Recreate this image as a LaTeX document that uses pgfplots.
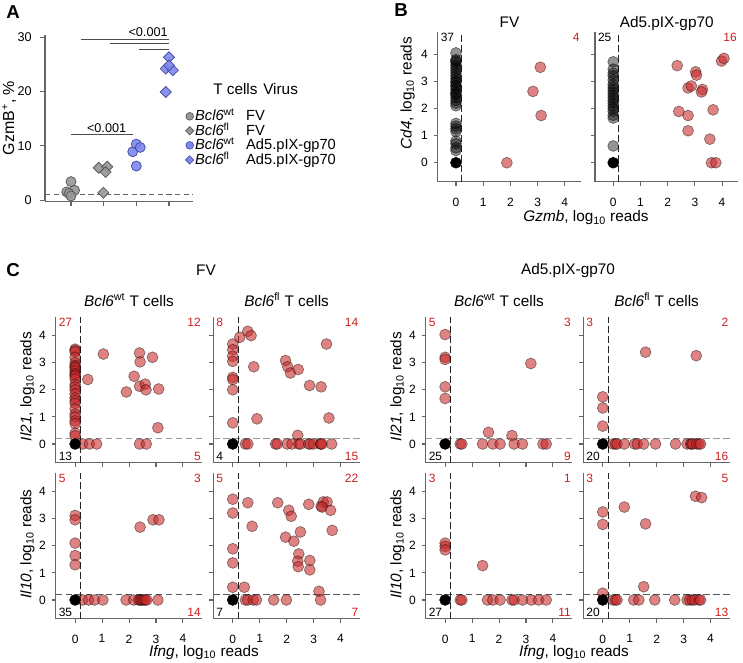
\documentclass[border=0pt]{standalone}
\usepackage{fontspec}
\setmainfont{Liberation Sans}
\usepackage{pgfplots}
\pgfplotsset{compat=1.18}
\definecolor{ptred}{RGB}{200,40,40}
\definecolor{numred}{RGB}{205,30,30}
\definecolor{agray}{RGB}{150,150,150}
\definecolor{agrayd}{RGB}{90,90,90}
\definecolor{ablue}{RGB}{125,135,235}
\definecolor{ablued}{RGB}{70,80,170}
\newcommand{\fs}[1]{\fontsize{#1}{#1}\selectfont}
\tikzset{cnr/.style={font=\fs{9}, inner sep=1pt},
  lab/.style={font=\fs{11.5}, inner sep=0pt}}
\pgfplotsset{
  base/.style={scale only axis, axis x line*=bottom, axis y line*=left,
    axis line style={-, black!60, line width=0.9pt},
    tick align=outside, major tick length=3pt,
    tick style={black!60, line width=0.8pt},
    ticklabel style={font=\fs{9}},
    /pgf/number format/assume math mode=true,
    xticklabel style={yshift=-5.5pt},
    yticklabel style={xshift=-1pt},
    clip=false},
  sc/.style={base, width=109.95pt, height=109.5pt, xmin=-0.72, xmax=4.72, ymin=-0.69, ymax=4.7,
    xtick={0,1,2,3,4}, ytick={0,1,2,3,4}},
  redpt/.style={only marks, mark=*, mark size=4.1pt, mark options={fill=ptred, fill opacity=0.58, draw=black, draw opacity=0.45, line width=0.5pt}},
  graypt/.style={only marks, mark=*, mark size=4.1pt, mark options={fill=black, fill opacity=0.42, draw=black, draw opacity=0.5, line width=0.5pt}},
  blkpt/.style={only marks, mark=*, mark size=4.1pt, mark options={fill=black, draw=black}},
  vdash/.style={black!85, line width=0.7pt, dash pattern=on 5pt off 2.5pt},
  hdash/.style={black!40, line width=0.9pt, dash pattern=on 5pt off 2.5pt},
  hdashd/.style={black!65, line width=0.8pt, dash pattern=on 5pt off 2.5pt},
}
\begin{document}
\begin{tikzpicture}
\useasboundingbox (0,0) rectangle (557.25pt,-497.25pt);
% ---------------- Panel labels and free text
\node[font=\fs{14}\bfseries] at (9.75pt,-9pt) {A};
\node[font=\fs{14}\bfseries] at (300.75pt,-7.5pt) {B};
\node[font=\fs{14}\bfseries] at (9.75pt,-202.5pt) {C};
\node[lab, rotate=90, font=\fs{12}] at (6.9pt,-88.5pt) {GzmB\textsuperscript{+}, \%};
\node[anchor=west, inner sep=0pt, font=\fs{11.5}] at (159.75pt,-66.75pt) {T cells};
\node[anchor=west, inner sep=0pt, font=\fs{11.5}] at (197.25pt,-66.75pt) {Virus};
\node[lab, anchor=base] at (439.5pt,-166.5pt) {\textit{Gzmb}, log\textsubscript{10} reads};
\node[lab, rotate=90] at (305.7pt,-70pt) {\textit{Cd4}, log\textsubscript{10} reads};
\node[lab] at (154.5pt,-202.5pt) {FV};
\node[lab] at (426pt,-203.25pt) {Ad5.pIX-gp70};
\node[lab, anchor=base] at (153pt,-492pt) {\textit{Ifng}, log\textsubscript{10} reads};
\node[lab, anchor=base] at (430.5pt,-492pt) {\textit{Ifng}, log\textsubscript{10} reads};
\node[lab, rotate=90] at (20.5pt,-290pt) {\textit{Il21}, log\textsubscript{10} reads};
\node[lab, rotate=90] at (298pt,-290pt) {\textit{Il21}, log\textsubscript{10} reads};
\node[lab, rotate=90] at (20.5pt,-408pt) {\textit{Il10}, log\textsubscript{10} reads};
\node[lab, rotate=90] at (298pt,-408pt) {\textit{Il10}, log\textsubscript{10} reads};

% ---------------- Panel A
\begin{axis}[base, at={(33.75pt,-26.25pt)}, anchor=north west, width=111pt, height=124.6pt,
  xmin=0.204, xmax=4.735, ymin=-0.2, ymax=30.4, xtick={1,2,3,4}, xticklabels={},
  ytick={0,10,20,30}, ticklabel style={font=\fs{9.5}}, yticklabel style={xshift=-1.5pt},
  major tick length=4pt,
  legend style={at={(0.948,0.556)}, anchor=north west, draw=none, fill=none, inner sep=0pt,
    row sep=0pt, font=\fs{11}, nodes={inner sep=1pt, text height=7.9pt, text depth=1pt}},
  legend cell align=left]
\addplot[forget plot, black!60, line width=0.8pt, dash pattern=on 4pt off 2.5pt] coordinates {(0.204,1) (4.735,1)};
\addplot[forget plot, black!70, line width=0.7pt] coordinates {(1.31,29.6) (4.0,29.6)};
\addplot[forget plot, black!70, line width=0.7pt] coordinates {(2.19,28.8) (4.0,28.8)};
\addplot[forget plot, black!70, line width=0.7pt] coordinates {(3.08,27.8) (4.0,27.8)};
\addplot[forget plot, black!70, line width=0.7pt] coordinates {(1.0,12.0) (2.89,12.0)};
\node[font=\fs{9.5}] at (axis cs:3.36,31.0) {<0.001};
\node[font=\fs{9.5}] at (axis cs:2.09,13.3) {<0.001};
\addplot[forget plot, only marks, mark=*, mark size=3.75pt, mark options={fill=agray, draw=agrayd, line width=0.6pt, fill opacity=0.9}]
  coordinates {(1.0,3.4) (0.87,1.5) (1.11,1.8) (0.94,1.2) (1.0,0.75)};
\addplot[forget plot, only marks, mark=square*, mark size=2.9pt, mark options={rotate=45, fill=agray, draw=agrayd, line width=0.6pt, fill opacity=0.9}]
  coordinates {(1.85,5.95) (2.11,6.13) (2.06,5.15) (1.99,1.35)};
\addplot[forget plot, only marks, mark=*, mark size=3.75pt, mark options={fill=ablue, draw=ablued, line width=0.6pt, fill opacity=0.9}]
  coordinates {(2.89,8.9) (3.0,10.3) (3.12,9.7) (3.0,6.26)};
\addplot[forget plot, only marks, mark=square*, mark size=2.9pt, mark options={rotate=45, fill=ablue, draw=ablued, line width=0.6pt, fill opacity=0.9}]
  coordinates {(4.0,26.3) (3.9,24.2) (4.12,23.9) (4.0,24.8) (3.9,19.9)};
\addlegendimage{only marks, mark=*, mark size=2.9pt, mark options={fill=agray, draw=agrayd, line width=0.5pt}}
\addlegendentry{\makebox[38.25pt][l]{\textit{Bcl6}\textsuperscript{wt}}FV}
\addlegendimage{only marks, mark=square*, mark size=2.2pt, mark options={rotate=45, fill=agray, draw=agrayd, line width=0.5pt}}
\addlegendentry{\makebox[38.25pt][l]{\textit{Bcl6}\textsuperscript{fl}}FV}
\addlegendimage{only marks, mark=*, mark size=2.9pt, mark options={fill=ablue, draw=ablued, line width=0.5pt}}
\addlegendentry{\makebox[38.25pt][l]{\textit{Bcl6}\textsuperscript{wt}}Ad5.pIX-gp70}
\addlegendimage{only marks, mark=square*, mark size=2.2pt, mark options={rotate=45, fill=ablue, draw=ablued, line width=0.5pt}}
\addlegendentry{\makebox[38.25pt][l]{\textit{Bcl6}\textsuperscript{fl}}Ad5.pIX-gp70}
\end{axis}

% ---------------- Panel B left (FV)
\begin{axis}[base, at={(328.3pt,-23.8pt)}, anchor=north west, width=107.55pt, height=112.5pt,
  xmin=-0.67, xmax=4.6, ymin=-0.7, ymax=4.83, xtick={0,1,2,3,4}, ytick={0,1,2,3,4}]
\addplot[vdash] coordinates {(0.2,-0.7) (0.2,4.83)};
\addplot[graypt] coordinates {(0,4.05) (0,3.8) (0,3.75) (0,3.7) (0,3.6) (0,3.5) (0,3.4) (0,3.3) (0,3.2) (0,3.1)
  (0,3.0) (0,2.95) (0,2.85) (0,2.8) (0,2.7) (0,2.6) (0,2.55) (0,2.5) (0,2.4) (0,2.3) (0,2.2) (0,2.1)
  (0,1.45) (0,1.35) (0,1.25) (0,1.15) (0,0.8) (0,0.7) (0,0.55) (0,0.45)};
\addplot[blkpt] coordinates {(0,0)};
\addplot[redpt] coordinates {(1.87,0) (2.83,2.63) (3.1,3.52) (3.13,1.74)};
\node[lab, anchor=base] at (rel axis cs:0.5,1) [yshift=3.2pt] {FV};
\node[cnr, anchor=north west] at (rel axis cs:0.01,1) {37};
\node[cnr, anchor=north east, text=numred] at (rel axis cs:1,1) {4};
\end{axis}

% ---------------- Panel B right (Ad5)
\begin{axis}[base, at={(446.25pt,-23.8pt)}, anchor=north west, width=107.55pt, height=112.5pt,
  xmin=-0.67, xmax=4.6, ymin=-0.7, ymax=4.83, xtick={0,1,2,3,4}, ytick={0,1,2,3,4}, yticklabels={}]
\addplot[vdash] coordinates {(0.2,-0.7) (0.2,4.83)};
\addplot[graypt] coordinates {(0,3.72) (0,3.45) (0,3.3) (0,3.2) (0,3.05) (0,2.9) (0,2.8) (0,2.7) (0,2.6)
  (0,2.5) (0,2.4) (0,2.3) (0,2.2) (0,2.1) (0,2.0) (0,1.9) (0,1.75) (0,1.65) (0,0.62)};
\addplot[blkpt] coordinates {(0,0)};
\addplot[redpt] coordinates {(2.35,3.58) (3.03,3.35) (3.06,3.23) (2.75,2.76) (2.87,2.83) (3.28,2.70)
  (3.24,2.61) (2.41,1.89) (2.75,1.74) (2.75,1.18) (3.67,1.95) (3.55,0.87) (3.61,0) (3.77,0)
  (3.98,3.75) (4.07,3.85)};
\node[lab, anchor=base] at (rel axis cs:0.5,1) [yshift=3.2pt] {Ad5.pIX-gp70};
\node[cnr, anchor=north west] at (rel axis cs:0.01,1) {25};
\node[cnr, anchor=north east, text=numred] at (rel axis cs:1,1) {16};
\end{axis}

% ---------------- Panel C, row 1 (Il21)
% C11 FV Bcl6wt
\begin{axis}[sc, at={(41.8pt,-237.5pt)}, anchor=north west, xticklabels={}]
\addplot[hdash] coordinates {(-0.72,0.2) (4.72,0.2)};
\addplot[vdash] coordinates {(0.2,-0.69) (0.2,4.7)};
\addplot[redpt] coordinates {(0,3.5) (0,3.45) (0,3.4) (0,3.2) (0,3.0) (0,2.9) (0,2.85) (0,2.8) (0,2.7)
  (0,2.6) (0,2.55) (0,2.5) (0,2.4) (0,2.2) (0,2.1) (0,2.0) (0,1.85) (0,1.7) (0,1.6) (0,1.5) (0,1.3)
  (0,1.1) (0,1.0) (0,0.85) (0,0.75) (0,0.4) (0,0.3)
  (0.47,2.38) (1.05,3.32) (1.9,1.92) (2.19,2.5) (2.39,3.36) (2.41,3.03) (2.39,2.13) (2.6,2.21)
  (2.63,2.0) (2.87,3.2) (3.1,2.03) (3.07,0.6)
  (0.28,0) (0.53,0) (0.8,0) (2.39,0) (2.64,0)};
\addplot[blkpt] coordinates {(0,0)};
\node[lab, anchor=base] at (rel axis cs:0.5,1) [yshift=7.5pt] {\textit{Bcl6}\textsuperscript{wt} T cells};
\node[cnr, anchor=north west, text=numred] at (rel axis cs:0.01,1) {27};
\node[cnr, anchor=north east, text=numred] at (rel axis cs:1,1) {12};
\node[cnr, anchor=south west] at (rel axis cs:0.01,0) [yshift=0.5pt] {13};
\node[cnr, anchor=south east, text=numred] at (rel axis cs:1,0) [yshift=0.5pt] {5};
\end{axis}

% C12 FV Bcl6fl
\begin{axis}[sc, at={(160pt,-237.5pt)}, anchor=north west, xticklabels={}, yticklabels={}]
\addplot[hdash] coordinates {(-0.72,0.2) (4.72,0.2)};
\addplot[vdash] coordinates {(0.2,-0.69) (0.2,4.7)};
\addplot[redpt] coordinates {(0,3.69) (0,3.48) (0,3.24) (0,3.05) (0,2.46) (0,2.38) (0,2.0) (0,0.78)
  (0.26,3.94) (0.56,4.16) (0.68,4.0) (0.78,2.85) (0.9,0.93) (1.96,3.08) (2.04,2.85) (2.14,2.62)
  (2.43,2.75) (2.85,2.16) (3.28,2.11) (3.48,3.69) (3.57,0.96) (2.41,0.32)
  (0.47,0) (0.56,0) (1.59,0) (1.65,0) (2.02,0) (2.2,0) (2.45,0) (2.51,0) (2.82,0) (2.88,0) (3.0,0)
  (3.25,0) (3.27,0) (3.31,0) (3.67,0)};
\addplot[blkpt] coordinates {(0,0)};
\node[lab, anchor=base] at (rel axis cs:0.5,1) [yshift=7.5pt] {\textit{Bcl6}\textsuperscript{fl} T cells};
\node[cnr, anchor=north west, text=numred] at (rel axis cs:0.01,1) {8};
\node[cnr, anchor=north east, text=numred] at (rel axis cs:1,1) {14};
\node[cnr, anchor=south west] at (rel axis cs:0.01,0) [yshift=0.5pt] {4};
\node[cnr, anchor=south east, text=numred] at (rel axis cs:1,0) [yshift=0.5pt] {15};
\end{axis}

% C13 Ad5 Bcl6wt
\begin{axis}[sc, at={(319.3pt,-237.5pt)}, anchor=north west, xticklabels={}]
\addplot[hdash] coordinates {(-0.72,0.2) (4.72,0.2)};
\addplot[vdash] coordinates {(0.2,-0.69) (0.2,4.7)};
\addplot[redpt] coordinates {(0,4.04) (0,3.2) (0,3.12) (0,2.11) (0,1.68)
  (3.18,2.97) (1.61,0.43) (2.48,0.31)
  (0.56,0) (0.62,0) (1.39,0) (1.77,0) (2.04,0) (2.56,0) (2.87,0) (3.63,0) (3.75,0)};
\addplot[blkpt] coordinates {(0,0)};
\node[lab, anchor=base] at (rel axis cs:0.5,1) [yshift=7.5pt] {\textit{Bcl6}\textsuperscript{wt} T cells};
\node[cnr, anchor=north west, text=numred] at (rel axis cs:0.01,1) {5};
\node[cnr, anchor=north east, text=numred] at (rel axis cs:1,1) {3};
\node[cnr, anchor=south west] at (rel axis cs:0.01,0) [yshift=0.5pt] {25};
\node[cnr, anchor=south east, text=numred] at (rel axis cs:1,0) [yshift=0.5pt] {9};
\end{axis}

% C14 Ad5 Bcl6fl
\begin{axis}[sc, at={(437.5pt,-237.5pt)}, anchor=north west, xticklabels={}, yticklabels={}]
\addplot[hdash] coordinates {(-0.72,0.2) (4.72,0.2)};
\addplot[vdash] coordinates {(0.2,-0.69) (0.2,4.7)};
\addplot[redpt] coordinates {(0,1.74) (0,1.33) (0,0.66)
  (1.59,3.39) (3.47,3.26)
  (0.38,0) (0.47,0) (0.53,0) (0.8,0) (1.18,0) (1.28,0) (1.52,0) (1.96,0) (2.7,0) (3.13,0) (3.26,0)
  (3.3,0) (3.34,0) (3.48,0) (3.57,0) (3.63,0)};
\addplot[blkpt] coordinates {(0,0)};
\node[lab, anchor=base] at (rel axis cs:0.5,1) [yshift=7.5pt] {\textit{Bcl6}\textsuperscript{fl} T cells};
\node[cnr, anchor=north west, text=numred] at (rel axis cs:0.01,1) {3};
\node[cnr, anchor=north east, text=numred] at (rel axis cs:1,1) {2};
\node[cnr, anchor=south west] at (rel axis cs:0.01,0) [yshift=0.5pt] {20};
\node[cnr, anchor=south east, text=numred] at (rel axis cs:1,0) [yshift=0.5pt] {16};
\end{axis}

% ---------------- Panel C, row 2 (Il10)
% C21
\begin{axis}[sc, at={(41.8pt,-354.5pt)}, anchor=north west]
\addplot[hdashd] coordinates {(-0.72,0.2) (4.72,0.2)};
\addplot[vdash] coordinates {(0.2,-0.69) (0.2,4.7)};
\addplot[redpt] coordinates {(0,3.12) (0,2.96) (0,2.1) (0,1.64) (0,1.3)
  (2.41,2.69) (2.89,2.96) (3.11,2.96)
  (0.28,0) (0.5,0) (0.72,0) (1.03,0) (1.89,0) (2.17,0) (2.35,0) (2.41,0) (2.45,0) (2.5,0) (2.56,0)
  (2.6,0) (2.66,0) (3.07,0)};
\addplot[blkpt] coordinates {(0,0)};
\node[cnr, anchor=north west, text=numred] at (rel axis cs:0.01,1) {5};
\node[cnr, anchor=north east, text=numred] at (rel axis cs:1,1) {3};
\node[cnr, anchor=south west] at (rel axis cs:0.01,0) [yshift=0.5pt] {35};
\node[cnr, anchor=south east, text=numred] at (rel axis cs:1,0) [yshift=0.5pt] {14};
\end{axis}

% C22
\begin{axis}[sc, at={(160pt,-354.5pt)}, anchor=north west, yticklabels={}]
\addplot[hdashd] coordinates {(-0.72,0.2) (4.72,0.2)};
\addplot[vdash] coordinates {(0.2,-0.69) (0.2,4.7)};
\addplot[redpt] coordinates {(0,3.72) (0,3.21) (0,1.89) (0,1.37) (0,0.47)
  (0.43,0.47) (0.56,3.59) (0.72,2.72) (1.67,3.59) (2.08,3.31) (2.17,3.09) (1.96,2.32) (2.27,2.17)
  (2.51,2.51) (2.45,1.7) (2.41,1.43) (2.43,1.23) (2.86,1.46) (2.86,1.11) (2.82,3.53) (3.28,3.46)
  (3.36,3.62) (3.5,3.62) (3.32,3.43) (3.63,3.31) (3.69,2.57) (3.2,0.32)
  (0.47,0) (0.56,0) (0.76,0) (0.88,0) (1.52,0) (1.99,0) (3.26,0)};
\addplot[blkpt] coordinates {(0,0)};
\node[cnr, anchor=north west, text=numred] at (rel axis cs:0.01,1) {5};
\node[cnr, anchor=north east, text=numred] at (rel axis cs:1,1) {22};
\node[cnr, anchor=south west] at (rel axis cs:0.01,0) [yshift=0.5pt] {7};
\node[cnr, anchor=south east, text=numred] at (rel axis cs:1,0) [yshift=0.5pt] {7};
\end{axis}

% C23
\begin{axis}[sc, at={(319.3pt,-354.5pt)}, anchor=north west]
\addplot[hdashd] coordinates {(-0.72,0.2) (4.72,0.2)};
\addplot[vdash] coordinates {(0.2,-0.69) (0.2,4.7)};
\addplot[redpt] coordinates {(0,2.1) (0,1.98) (0,1.85)
  (1.39,1.27)
  (0.56,0) (0.62,0) (1.57,0) (1.77,0) (2.04,0) (2.48,0) (2.56,0) (2.87,0) (3.2,0) (3.47,0) (3.75,0)};
\addplot[blkpt] coordinates {(0,0)};
\node[cnr, anchor=north west, text=numred] at (rel axis cs:0.01,1) {3};
\node[cnr, anchor=north east, text=numred] at (rel axis cs:1,1) {1};
\node[cnr, anchor=south west] at (rel axis cs:0.01,0) [yshift=0.5pt] {27};
\node[cnr, anchor=south east, text=numred] at (rel axis cs:1,0) [yshift=0.5pt] {11};
\end{axis}

% C24
\begin{axis}[sc, at={(437.5pt,-354.5pt)}, anchor=north west, yticklabels={}]
\addplot[hdashd] coordinates {(-0.72,0.2) (4.72,0.2)};
\addplot[vdash] coordinates {(0.2,-0.69) (0.2,4.7)};
\addplot[redpt] coordinates {(0,3.25) (0,2.79) (0,0.25)
  (0.8,3.43) (1.59,2.81) (1.52,0.49) (3.44,3.83) (3.67,3.78)
  (0.38,0) (0.47,0) (0.53,0) (1.15,0) (1.34,0) (1.93,0) (2.67,0) (3.13,0) (3.23,0) (3.32,0) (3.41,0)
  (3.57,0) (3.63,0)};
\addplot[blkpt] coordinates {(0,0)};
\node[cnr, anchor=north west, text=numred] at (rel axis cs:0.01,1) {3};
\node[cnr, anchor=north east, text=numred] at (rel axis cs:1,1) {5};
\node[cnr, anchor=south west] at (rel axis cs:0.01,0) [yshift=0.5pt] {20};
\node[cnr, anchor=south east, text=numred] at (rel axis cs:1,0) [yshift=0.5pt] {13};
\end{axis}
\end{tikzpicture}
\end{document}
